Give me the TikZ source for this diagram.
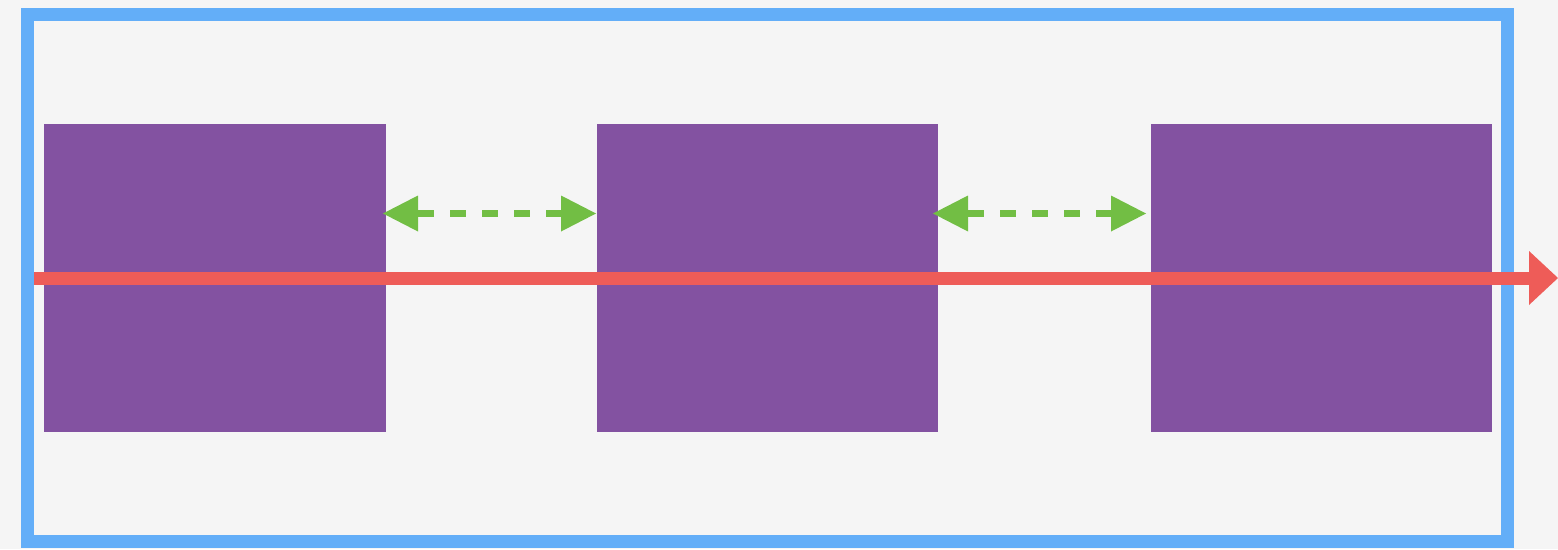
\documentclass[tikz,border=0pt]{standalone}
\usetikzlibrary{arrows.meta}
\definecolor{bgc}{RGB}{245,245,245}
\definecolor{framec}{RGB}{99,174,248}
\definecolor{boxc}{RGB}{131,82,161}
\definecolor{redc}{RGB}{238,92,88}
\definecolor{greenc}{RGB}{114,190,68}
\tikzset{
  pbox/.style={fill=boxc, draw=none, inner sep=0pt, minimum width=341.5pt, minimum height=307.5pt, anchor=north west},
  framebox/.style={draw=framec, line width=13pt},
  redarrow/.style={draw=redc, line width=13pt, -{Triangle[length=29pt,width=54pt,line width=0pt]}},
  greenarrow/.style={draw=greenc, line width=7pt, dash pattern=on 16pt off 16pt,
     {Triangle[length=35pt,width=36pt,line width=0pt]}-{Triangle[length=35pt,width=36pt,line width=0pt]}}
}
\begin{document}
\begin{tikzpicture}[x=1pt,y=-1pt]
\fill[bgc] (0,0) rectangle (1558,549);
\useasboundingbox (0,0) rectangle (1558,549);
\draw[framebox] (27.5,14.5) rectangle (1507,541.5);
\node[pbox] (b1) at (44,124) {};
\node[pbox] (b2) at (596.5,124) {};
\node[pbox] (b3) at (1150.5,124) {};
\coordinate (g1s) at (383,213.5);
\coordinate (g1e) at (596,213.5);
\coordinate (g2s) at (933,213.5);
\coordinate (g2e) at (1146,213.5);
\draw[greenarrow] (g1s) -- (g1e);
\draw[greenarrow] (g2s) -- (g2e);
\coordinate (rs) at (34,278);
\coordinate (re) at (1558,278);
\draw[redarrow] (rs) -- (re);
\end{tikzpicture}
\end{document}
